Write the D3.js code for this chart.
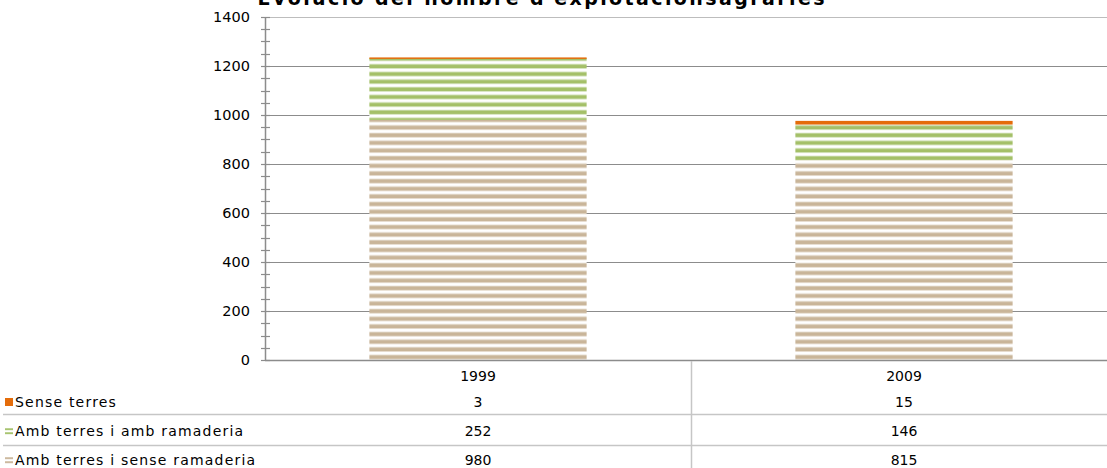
<!DOCTYPE html>
<html>
<head>
<meta charset="utf-8">
<script src="https://cdn.jsdelivr.net/npm/d3@7"></script>
<style>
  body { margin: 0; background: #fff; }
  svg { display: block; }
</style>
</head>
<body>
<script>
// Dades del gràfic
const years = ["1999", "2009"];
const seriesNames = ["Amb terres i sense ramaderia", "Amb terres i amb ramaderia", "Sense terres"];
const senseRamaderia = [980, 815];
const ambRamaderia = [252, 146];
const senseTerres = [3, 15];
const yTicks = [0, 200, 400, 600, 800, 1000, 1200, 1400];

const width = 1107, height = 468;
const svg = d3.select("body").append("svg").attr("width", width).attr("height", height);

const y = d3.scaleLinear().domain([0, 1400]).range([360, 17]);
const x = d3.scaleBand().domain(years).range([265, 1117]).paddingInner(0.49).paddingOuter(0.245);

// Patrons de ratlles
const defs = svg.append("defs");
function stripes(id, main, light) {
  const p = defs.append("pattern")
    .attr("id", id)
    .attr("patternUnits", "userSpaceOnUse")
    .attr("x", 0).attr("y", y(0) + 0.6)
    .attr("width", 8).attr("height", 7.65);
  p.append("rect").attr("width", 8).attr("height", 7.65).attr("fill", "#fff");
  p.append("rect").attr("y", 1.6).attr("width", 8).attr("height", 5).attr("fill", light);
  p.append("rect").attr("y", 2.4).attr("width", 8).attr("height", 3.4).attr("fill", main);
}
stripes("tan", "#c9b599", "#e6dccf");
stripes("green", "#a4c068", "#d7e5c0");

const colors = ["url(#tan)", "url(#green)", "#e46c0a"];

// Línies de la graella
svg.append("g").selectAll("line")
  .data(yTicks.filter((d) => d > 0))
  .enter().append("line")
  .attr("x1", 265).attr("x2", width)
  .attr("y1", (d) => Math.round(y(d)) + 0.5).attr("y2", (d) => Math.round(y(d)) + 0.5)
  .attr("stroke", (d) => (d === 1400 ? "#bdbdbd" : "#8c8c8c"))
  .attr("stroke-width", 1.2);

// Barres apilades
const rows = years.map((yr, i) => ({ year: yr, values: [senseRamaderia[i], ambRamaderia[i], senseTerres[i]] }));
const stack = d3.stack().keys([0, 1, 2]).value((d, k) => d.values[k]);
const stacked = stack(rows);

svg.append("g").selectAll("g")
  .data(stacked)
  .enter().append("g")
  .attr("fill", (d, i) => colors[i])
  .selectAll("rect")
  .data((d) => d)
  .enter().append("rect")
  .attr("x", (d) => x(d.data.year))
  .attr("width", x.bandwidth())
  .attr("y", (d) => y(d[1]))
  .attr("height", (d) => Math.max(y(d[0]) - y(d[1]), 1.5));

// Eix Y
const yAxis = svg.append("g");
yAxis.append("line").attr("x1", 265.5).attr("x2", 265.5).attr("y1", y(1400)).attr("y2", y(0))
  .attr("stroke", "#8c8c8c").attr("stroke-width", 1.5);
yAxis.selectAll(".minor")
  .data(d3.range(0, 1401, 50))
  .enter().append("line")
  .attr("x1", 261).attr("x2", 270)
  .attr("y1", (d) => Math.round(y(d)) + 0.5).attr("y2", (d) => Math.round(y(d)) + 0.5)
  .attr("stroke", "#8c8c8c").attr("stroke-width", 1.2);
yAxis.selectAll("text")
  .data(yTicks)
  .enter().append("text")
  .attr("x", 250).attr("y", (d) => y(d))
  .attr("dy", "0.35em")
  .attr("text-anchor", "end")
  .attr("font-family", "DejaVu Sans, sans-serif")
  .attr("font-size", 14.5)
  .attr("fill", "#000")
  .text((d) => d);

// Eix X
svg.append("line").attr("x1", 265).attr("x2", width).attr("y1", 360.5).attr("y2", 360.5)
  .attr("stroke", "#8c8c8c").attr("stroke-width", 1.5);

// Títol
svg.append("text")
  .attr("x", 541).attr("y", 5)
  .attr("text-anchor", "middle")
  .attr("font-family", "DejaVu Sans, sans-serif")
  .attr("font-weight", "bold")
  .attr("font-size", 19)
  .attr("textLength", 567)
  .attr("fill", "#000")
  .text("Evolució del nombre d'explotacionsagràries");

// Taula de dades
const tableFont = "DejaVu Sans, sans-serif";
const rowY = [402, 431, 460];
const tableSeries = [2, 1, 0];
svg.append("line").attr("x1", 691.5).attr("x2", 691.5).attr("y1", 361).attr("y2", height)
  .attr("stroke", "#c6c6c6").attr("stroke-width", 1.5);
[414.5, 445.5].forEach((ly) => {
  svg.append("line").attr("x1", 3).attr("x2", width).attr("y1", ly).attr("y2", ly)
    .attr("stroke", "#c6c6c6").attr("stroke-width", 1.5);
});

svg.append("g").selectAll("text")
  .data(years)
  .enter().append("text")
  .attr("x", (d) => x(d) + x.bandwidth() / 2)
  .attr("y", 376).attr("dy", "0.35em")
  .attr("text-anchor", "middle")
  .attr("font-family", tableFont).attr("font-size", 14)
  .text((d) => d);

const seriesValues = [senseRamaderia, ambRamaderia, senseTerres];
tableSeries.forEach((s, r) => {
  const g = svg.append("g");
  if (s === 2) {
    g.append("rect").attr("x", 5).attr("y", rowY[r] - 4).attr("width", 8).attr("height", 8).attr("fill", "#e46c0a");
  } else {
    const c = s === 1 ? ["#a4c068", "#d7e5c0"] : ["#c9b599", "#e6dccf"];
    [-2.5, 1.5].forEach((o) => {
      g.append("rect").attr("x", 5).attr("y", rowY[r] + o - 0.5).attr("width", 8).attr("height", 2.4).attr("fill", c[1]);
      g.append("rect").attr("x", 5).attr("y", rowY[r] + o).attr("width", 8).attr("height", 1.4).attr("fill", c[0]);
    });
  }
  g.append("text")
    .attr("x", 15).attr("y", rowY[r]).attr("dy", "0.35em")
    .attr("font-family", tableFont).attr("font-size", 14)
    .attr("letter-spacing", 1.2)
    .text(seriesNames[s]);
  g.selectAll(".val")
    .data(years)
    .enter().append("text")
    .attr("x", (d) => x(d) + x.bandwidth() / 2)
    .attr("y", rowY[r]).attr("dy", "0.35em")
    .attr("text-anchor", "middle")
    .attr("font-family", tableFont).attr("font-size", 14)
    .text((d, i) => seriesValues[s][i]);
});
</script>
</body>
</html>
